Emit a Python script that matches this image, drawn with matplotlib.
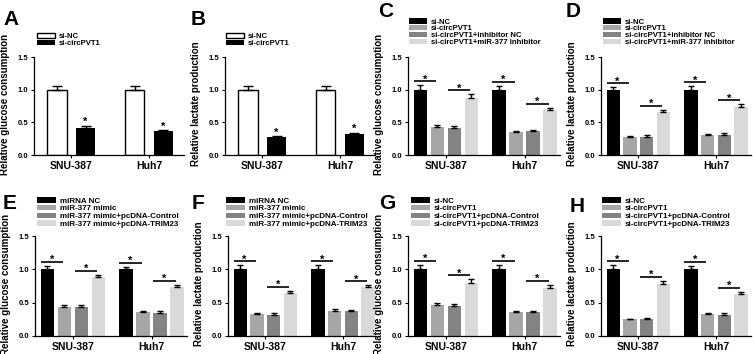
import matplotlib
matplotlib.use("Agg")
import matplotlib.pyplot as plt
import numpy as np
from matplotlib.patches import Patch

plt.rcParams['font.family'] = ['Liberation Sans', 'DejaVu Sans']
plt.rcParams['font.weight'] = 'bold'

groups = ['SNU-387', 'Huh7']

leg_AB = ['si-NC', 'si-circPVT1']
A_vals = [[1.00, 1.00], [0.42, 0.36]]
A_err = [[0.05, 0.06], [0.03, 0.02]]
B_vals = [[1.00, 1.00], [0.27, 0.32]]
B_err = [[0.05, 0.05], [0.02, 0.02]]

leg_CD = ['si-NC', 'si-circPVT1', 'si-circPVT1+inhibitor NC', 'si-circPVT1+miR-377 inhibitor']
C_vals = [[1.00, 1.00], [0.43, 0.35], [0.42, 0.36], [0.88, 0.69]]
C_err = [[0.07, 0.06], [0.03, 0.02], [0.03, 0.02], [0.05, 0.03]]
D_vals = [[1.00, 1.00], [0.27, 0.30], [0.28, 0.31], [0.66, 0.73]]
D_err = [[0.04, 0.05], [0.02, 0.02], [0.02, 0.02], [0.03, 0.05]]

leg_EF = ['miRNA NC', 'miR-377 mimic', 'miR-377 mimic+pcDNA-Control', 'miR-377 mimic+pcDNA-TRIM23']
E_vals = [[1.00, 1.00], [0.43, 0.36], [0.44, 0.35], [0.89, 0.74]]
E_err = [[0.05, 0.04], [0.03, 0.02], [0.03, 0.02], [0.03, 0.03]]
F_vals = [[1.00, 1.00], [0.33, 0.38], [0.32, 0.37], [0.65, 0.73]]
F_err = [[0.06, 0.06], [0.02, 0.03], [0.02, 0.02], [0.03, 0.03]]

leg_GH = ['si-NC', 'si-circPVT1', 'si-circPVT1+pcDNA-Control', 'si-circPVT1+pcDNA-TRIM23']
G_vals = [[1.01, 1.01], [0.46, 0.36], [0.45, 0.355], [0.80, 0.72]]
G_err = [[0.06, 0.06], [0.03, 0.02], [0.03, 0.02], [0.05, 0.05]]
H_vals = [[1.01, 1.00], [0.25, 0.33], [0.26, 0.32], [0.78, 0.63]]
H_err = [[0.05, 0.05], [0.01, 0.02], [0.01, 0.02], [0.05, 0.03]]

ylab_glu = 'Relative glucose consumption'
ylab_lac = 'Relative lactate production'

W, H = 753, 354
fig = plt.figure(figsize=(W / 100, H / 100), dpi=100)


def px_axes(left, top, width, height):
    return fig.add_axes([left / W, 1 - (top + height) / H, width / W, height / H])


def panel(letter, lpos, axpos, vals, errs, labels, ylabel, legpos, legsize, lspace, two=False):
    ax = px_axes(*axpos)
    x = np.arange(len(groups))
    n = len(vals)
    if two:
        width, step = 0.25, 0.37
        styles = [dict(facecolor='white', edgecolor='black', linewidth=1.0),
                  dict(facecolor='black', edgecolor='black', linewidth=0)]
        capsize = 3.5
    else:
        width, step = 0.17, 0.215
        cols = ['#000000', '#a6a6a6', '#838383', '#d9d9d9']
        styles = [dict(facecolor=c, edgecolor=c, linewidth=0) for c in cols]
        capsize = 2.5
    handles = []
    tops = []
    xs = []
    for i in range(n):
        xi = x + (i - (n - 1) / 2) * step
        xs.append(xi)
        ax.bar(xi, vals[i], width=width, zorder=2, **styles[i])
        ax.errorbar(xi, vals[i], yerr=[np.zeros(len(groups)), errs[i]], fmt='none',
                    ecolor='black', elinewidth=1.0, capsize=capsize, capthick=1.0, zorder=3)
        tops.append(np.array(vals[i]) + np.array(errs[i]))
        handles.append(Patch(**styles[i]))
    if two:
        for g in range(len(groups)):
            ax.text(xs[1][g], tops[1][g] - 0.02, '*', ha='center', va='bottom', fontsize=8, fontweight='bold')
    else:
        for g in range(len(groups)):
            for a, b in [(0, 1), (2, 3)]:
                yl = max(tops[a][g], tops[b][g]) + 0.06
                x0 = xs[a][g] - width * 0.5
                x1 = xs[b][g] - width * 0.1
                ax.plot([x0, x1], [yl, yl], color='black', lw=1.2, solid_capstyle='butt')
                ax.text((x0 + x1) / 2, yl - 0.05, '*', ha='center', va='bottom', fontsize=8, fontweight='bold')
    ax.set_xlim(-0.48, 1.45)
    ax.set_ylim(0, 1.5)
    ax.set_yticks([0, 0.5, 1.0, 1.5])
    ax.set_yticklabels(['0.0', '0.5', '1.0', '1.5'])
    ax.set_xticks(x)
    ax.set_xticklabels(groups, fontsize=7.5, fontweight='bold')
    ax.tick_params(axis='y', labelsize=5.5, length=2.5, width=0.8, pad=1.5)
    ax.tick_params(axis='x', length=2.5, width=0.8, pad=1.5)
    for s in ['top', 'right']:
        ax.spines[s].set_visible(False)
    for s in ['left', 'bottom']:
        ax.spines[s].set_linewidth(0.9)
    ax.set_ylabel(ylabel, fontsize=7, fontweight='bold')
    ax.yaxis.set_label_coords(-0.16, 0.52)
    ax.legend(handles, labels, loc='lower left',
              bbox_to_anchor=(legpos[0] / W, 1 - legpos[1] / H), bbox_transform=fig.transFigure,
              frameon=False, prop={'size': legsize, 'weight': 'bold'},
              handlelength=2.3, handleheight=0.7, labelspacing=lspace,
              handletextpad=0.5, borderpad=0, borderaxespad=0)
    fig.text(lpos[0] / W, 1 - lpos[1] / H, letter, fontsize=15, fontweight='bold', ha='left', va='baseline')
    return ax


panel('A', (3, 25), (34, 57, 150, 98), A_vals, A_err, leg_AB, ylab_glu, (37, 47), 5.6, -0.05, two=True)
panel('B', (191, 25), (225, 57, 150, 98), B_vals, B_err, leg_AB, ylab_lac, (226, 47), 5.6, -0.05, two=True)
panel('C', (378, 17), (408, 57, 152, 98), C_vals, C_err, leg_CD, ylab_glu, (409, 46), 5.6, -0.08)
panel('D', (566, 17), (601, 57, 150, 98), D_vals, D_err, leg_CD, ylab_lac, (603, 46), 5.6, -0.08)
panel('E', (3, 209), (35, 236, 152, 100), E_vals, E_err, leg_EF, ylab_glu, (37, 228), 5.8, 0.02)
panel('F', (192, 209), (228, 236, 150, 100), F_vals, F_err, leg_EF, ylab_lac, (226, 228), 5.8, 0.02)
panel('G', (379, 209), (408, 236, 152, 100), G_vals, G_err, leg_GH, ylab_glu, (411, 228), 5.8, 0.02)
panel('H', (570, 212), (601, 236, 150, 100), H_vals, H_err, leg_GH, ylab_lac, (602, 228), 5.8, 0.02)

fig.savefig('out.png', dpi=100)
